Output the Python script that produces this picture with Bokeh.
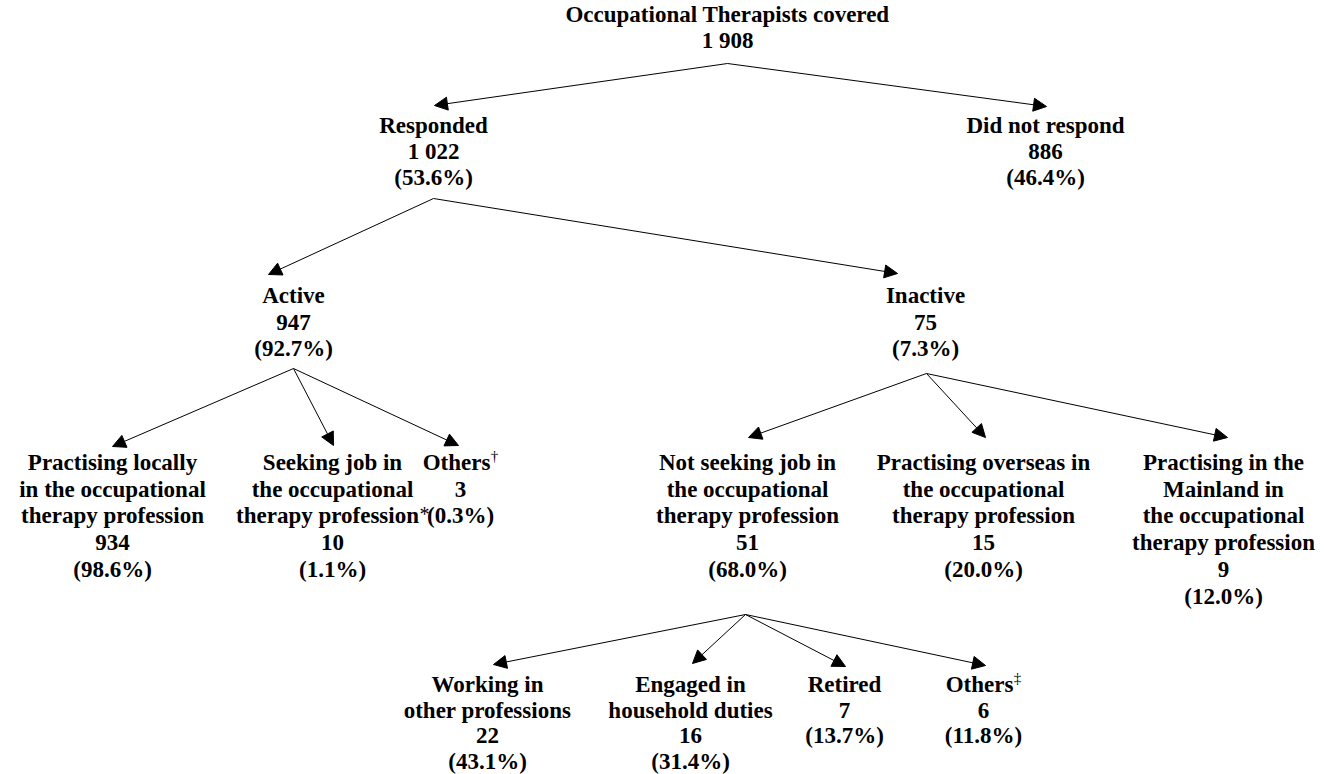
from bokeh.plotting import figure
from bokeh.models import ColumnDataSource, Arrow, NormalHead, Range1d
from bokeh.core.properties import value
from bokeh.embed import file_html
from bokeh.resources import INLINE

# ---- data ----
node_ids = ["root", "resp", "nonresp", "active", "inactive",
            "local", "seeking", "others1",
            "notseek", "overseas", "mainland",
            "otherprof", "household", "retired", "others2"]
node_labels = [
    ["Occupational Therapists covered"],
    ["Responded"],
    ["Did not respond"],
    ["Active"],
    ["Inactive"],
    ["Practising locally", "in the occupational", "therapy profession"],
    ["Seeking job in", "the occupational", "therapy profession"],
    ["Others"],
    ["Not seeking job in", "the occupational", "therapy profession"],
    ["Practising overseas in", "the occupational", "therapy profession"],
    ["Practising in the", "Mainland in", "the occupational", "therapy profession"],
    ["Working in", "other professions"],
    ["Engaged in", "household duties"],
    ["Retired"],
    ["Others"],
]
# footnote marks: node -> (label line index, mark)
node_marks = {"seeking": (2, "*"), "others1": (0, "\u2020"), "others2": (0, "\u2021")}
node_counts = [1908, 1022, 886, 947, 75, 934, 10, 3, 51, 15, 9, 22, 16, 7, 6]
node_pcts = [None, 53.6, 46.4, 92.7, 7.3, 98.6, 1.1, 0.3, 68.0, 20.0, 12.0, 43.1, 31.4, 13.7, 11.8]
node_parent = [None, "root", "root", "resp", "resp",
               "active", "active", "active",
               "inactive", "inactive", "inactive",
               "notseek", "notseek", "notseek", "notseek"]

# ---- layout (screen pixels) ----
W, H = 1324, 774
pos = {  # center x, first-line y, line step
    "root": (727, 14, 26), "resp": (433, 125, 26), "nonresp": (1045, 125, 26),
    "active": (293, 295, 26.5), "inactive": (925, 295, 26.5),
    "local": (112, 462, 26.7), "seeking": (332, 462, 26.7), "others1": (460, 462, 26.7),
    "notseek": (747, 462, 26.7), "overseas": (983, 462, 26.7), "mainland": (1223, 462, 26.7),
    "otherprof": (487, 684, 25.7), "household": (690, 684, 25.7), "retired": (844, 684, 25.7),
    "others2": (983, 684, 25.7),
}
# mark placement: (shift of the marked line, x of mark relative to center, y raise, size)
mark_layout = {"seeking": (-5, 92, -2, "20px"), "others1": (-4, 34, -7, "15px"),
               "others2": (-4, 34, -7, "15px")}
apex = {"root": (727, 63), "resp": (433, 198), "active": (293, 368),
        "inactive": (926, 373), "notseek": (745, 614)}
tip = {"resp": (434, 105), "nonresp": (1046, 106), "active": (268, 274), "inactive": (897, 273),
       "local": (112, 446), "seeking": (333, 445), "others1": (458, 445),
       "notseek": (748, 437), "overseas": (985, 437), "mainland": (1227, 437),
       "otherprof": (493, 664), "household": (692, 663), "retired": (845, 666), "others2": (985, 665)}

FONT = value("'Liberation Serif', 'Times New Roman', Times, serif")

def fmt_count(n):
    return f"{n:,}".replace(",", " ")

tx, ty, tt = [], [], []
sx, sy, st, ss = [], [], [], []
for nid, lab, cnt, pct in zip(node_ids, node_labels, node_counts, node_pcts):
    cx, y0, step = pos[nid]
    lines = list(lab) + [fmt_count(cnt)]
    if pct is not None:
        lines.append(f"({pct:.1f}%)")
    mk = node_marks.get(nid)
    for i, s in enumerate(lines):
        y = y0 + i * step
        if mk is not None and mk[0] == i:
            shift, mdx, mdy, msize = mark_layout[nid]
            tx.append(cx + shift)
            sx.append(cx + mdx); sy.append(y + mdy); st.append(mk[1]); ss.append(msize)
        else:
            tx.append(cx)
        ty.append(y)
        tt.append(s)

ax0, ay0, ax1, ay1 = [], [], [], []
for nid, par in zip(node_ids, node_parent):
    if par is None:
        continue
    ax0.append(apex[par][0]); ay0.append(apex[par][1])
    ax1.append(tip[nid][0]); ay1.append(tip[nid][1])

p = figure(width=W, height=H, output_backend="svg", toolbar_location=None,
           x_range=Range1d(0, W), y_range=Range1d(H, 0), min_border=0)
p.axis.visible = False
p.grid.visible = False
p.outline_line_color = None
p.background_fill_color = "white"

p.text(x=tx, y=ty, text=tt, text_font=FONT, text_font_style="bold",
       text_font_size="23px", text_align="center", text_baseline="middle", text_color="black")
msrc = ColumnDataSource(dict(x=sx, y=sy, text=st, size=ss))
p.text(x="x", y="y", text="text", text_font_size="size", source=msrc, text_font=FONT,
       text_align="center", text_baseline="middle", text_color="black")

asrc = ColumnDataSource(dict(x0=ax0, y0=ay0, x1=ax1, y1=ay1))
p.add_layout(Arrow(end=NormalHead(size=13, fill_color="black", line_color="black", line_width=1),
                   x_start="x0", y_start="y0", x_end="x1", y_end="y1", source=asrc,
                   line_color="black", line_width=1))

open("out.html", "w").write(file_html(p, INLINE))
